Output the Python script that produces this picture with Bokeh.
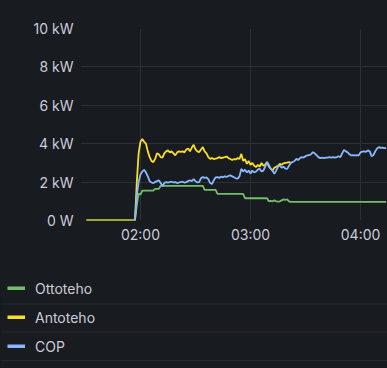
from datetime import datetime, timedelta
from bokeh.plotting import figure
from bokeh.layouts import column
from bokeh.models import (Range1d, FixedTicker, CustomJSTickFormatter, DatetimeTickFormatter,
                          Legend, LegendItem, Span)
from bokeh.embed import file_html
from bokeh.resources import INLINE

# ---- data (minutes after midnight, values in kW) ----
base = datetime(2024, 1, 1)
zero_start_min = 90.5
start_min = 117

ottoteho = ([0.0, 0.8, 1.4, 1.35, 1.56] + [1.56] * 6 + [1.65] * 3 + [1.8] * 24 + [1.6] * 7
            + [1.39] * 15 + [1.16] * 13
            + [1.0, 1.02, 1.0, 1.05, 1.0, 0.98, 1.0, 1.05, 1.1, 1.08, 1.1, 1.0]
            + [0.97] * 53)

antoteho = [0.0, 2.0, 3.5, 4.1, 4.25, 4.1, 4.0, 3.6, 3.3, 3.1,
            3.04, 3.2, 3.5, 3.45, 3.3, 3.27, 3.5, 3.6, 3.65, 3.55,
            3.6, 3.5, 3.39, 3.55, 3.6, 3.58, 3.6, 3.55, 3.7, 3.75,
            3.6, 3.8, 3.94, 3.7, 3.6, 3.56, 3.7, 3.82, 3.6, 3.5,
            3.3, 3.21, 3.25, 3.2, 3.22, 3.25, 3.3, 3.25, 3.28, 3.3,
            3.33, 3.25, 3.2, 3.15, 3.2, 3.18, 3.25, 3.2, 3.47, 3.1,
            3.2, 2.95, 3.1, 2.9, 3.0, 2.85, 2.78, 2.9, 2.8, 3.0,
            2.85, 2.9, 3.04, 2.8, 2.7, 2.6, 2.75, 2.8, 2.85, 2.95,
            2.9, 2.98, 3.0, 3.02, 3.04, 3.0]

cop = [0.0, 1.3, 2.0, 2.4, 2.55, 2.64, 2.5, 2.3, 2.05, 1.98,
       1.95, 2.0, 2.05, 2.1, 1.95, 1.8, 1.95, 2.0, 1.97, 2.0,
       2.02, 1.98, 2.0, 1.95, 1.98, 2.0, 2.02, 1.97, 2.0, 2.05,
       2.1, 2.05, 2.15, 2.05, 1.98, 2.0, 2.2, 2.26, 2.22, 2.24,
       2.15, 1.95, 1.9, 2.1, 2.25, 2.26, 2.22, 2.28, 2.25, 2.3,
       2.27, 2.32, 2.35, 2.3, 2.25, 2.2, 2.18, 2.3, 2.69, 2.55,
       2.65, 2.5, 2.6, 2.45, 2.6, 2.5, 2.55, 2.65, 2.7, 2.55,
       2.6, 2.8, 3.04, 2.9, 2.7, 2.6, 2.43, 2.6, 2.8, 2.86,
       2.75, 2.8, 2.7, 2.69, 2.85, 3.0, 3.05, 3.1, 3.21, 3.15,
       3.25, 3.3, 3.28, 3.35, 3.39, 3.4, 3.45, 3.56, 3.5, 3.4,
       3.3, 3.25, 3.27, 3.25, 3.28, 3.27, 3.3, 3.28, 3.3, 3.27,
       3.3, 3.35, 3.3, 3.5, 3.68, 3.6, 3.55, 3.45, 3.39, 3.4,
       3.39, 3.4, 3.39, 3.55, 3.59, 3.6, 3.58, 3.65, 3.6, 3.35,
       3.4, 3.6, 3.75, 3.82, 3.78, 3.8, 3.77, 3.77]

series_names = ["Ottoteho", "Antoteho", "COP"]
series_colors = ["#73bf69", "#fade2a", "#8ab8ff"]
y_ticks = [0, 2, 4, 6, 8, 10]
x_tick_hours = [2, 3, 4]
x_start_min, x_end_min = 87.3, 254.7


def t(m):
    return base + timedelta(minutes=m)


def times(n, with_zero):
    ts = [t(start_min + i) for i in range(n)]
    return ([t(zero_start_min)] if with_zero else []) + ts


BG = "#181b1f"
GRID = "#2c2f34"
SEP = "#26292e"
TEXT = "#ccccdc"
FONT = "Inter"

p = figure(width=387, height=250, output_backend="svg", toolbar_location=None,
           x_axis_type="datetime",
           x_range=Range1d(t(x_start_min), t(x_end_min)),
           y_range=Range1d(0, 10), frame_align=False,
           min_border_left=80, min_border_right=0, min_border_top=28, min_border_bottom=30)
p.background_fill_color = BG
p.border_fill_color = BG
p.outline_line_color = None

p.xgrid.grid_line_color = GRID
p.ygrid.grid_line_color = GRID
p.xaxis.ticker = FixedTicker(ticks=[(t(h * 60) - datetime(1970, 1, 1)).total_seconds() * 1000
                                    for h in x_tick_hours])
p.xaxis.formatter = DatetimeTickFormatter(hours="%H:%M", minutes="%H:%M", hourmin="%H:%M")
p.yaxis.ticker = FixedTicker(ticks=y_ticks)
p.yaxis.formatter = CustomJSTickFormatter(code="return tick == 0 ? '0 W' : tick + ' kW';")
for ax in (p.xaxis[0], p.yaxis[0]):
    ax.axis_line_color = None
    ax.major_tick_line_color = None
    ax.minor_tick_line_color = None
    ax.major_tick_out = 0
    ax.major_tick_in = 0
    ax.minor_tick_out = 0
    ax.minor_tick_in = 0
    ax.major_label_text_color = TEXT
    ax.major_label_text_font = FONT
    ax.major_label_text_font_size = "14px"
p.yaxis.major_label_standoff = 7
p.xaxis.major_label_standoff = 5

p.line(times(len(ottoteho), True), [0.0] + ottoteho, line_color=series_colors[0], line_width=1.8)
p.line(times(len(antoteho), True), [0.0] + antoteho, line_color=series_colors[1], line_width=1.8)
p.line(times(len(cop), False), cop, line_color=series_colors[2], line_width=1.8)

# ---- legend panel ----
lg = figure(width=387, height=118, output_backend="svg", toolbar_location=None,
            x_axis_location=None, y_axis_location=None, frame_align=False,
            x_range=Range1d(0, 387), y_range=Range1d(0, 118),
            min_border_left=0, min_border_right=0, min_border_top=0, min_border_bottom=0)
lg.grid.visible = False
lg.background_fill_color = BG
lg.border_fill_color = BG
lg.outline_line_color = None
for yloc in (64.5, 36.5, 8.0):
    lg.add_layout(Span(location=yloc, dimension="width", line_color=SEP, line_width=1))

items = []
for name, col in zip(series_names, series_colors):
    r = lg.line(x=[float("nan")], y=[float("nan")], line_color=col, line_width=4)
    items.append(LegendItem(label=name, renderers=[r]))
legend = Legend(items=items, location=(7, 12), orientation="vertical",
                glyph_width=18, glyph_height=4, label_height=20, spacing=9,
                label_standoff=10, padding=0, margin=0,
                label_text_color=TEXT, label_text_font=FONT, label_text_font_size="14px",
                background_fill_alpha=0, border_line_color=None)
lg.add_layout(legend)

layout = column(p, lg, spacing=0)
html = file_html(layout, INLINE)
html = html.replace("<head>", "<head><style>html,body{background:#181b1f;}</style>", 1)
open("out.html", "w").write(html)
